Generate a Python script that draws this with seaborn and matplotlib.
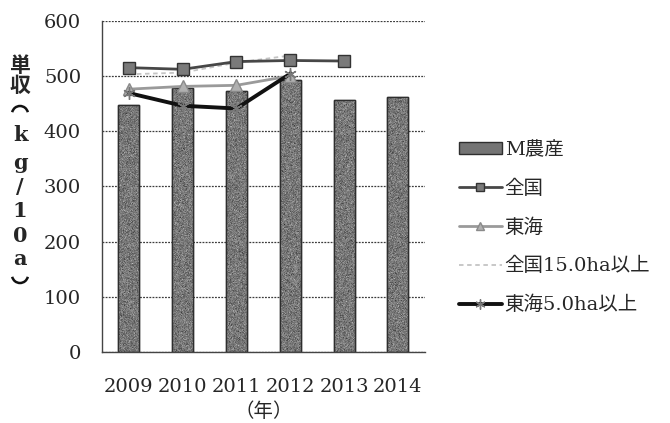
import numpy as np
import pandas as pd
import matplotlib
matplotlib.use("Agg")
import matplotlib.pyplot as plt
from matplotlib.patches import Arc
import seaborn as sns

# --- data -------------------------------------------------------------
years = ["2009", "2010", "2011", "2012", "2013", "2014"]
m_farm = [447, 479, 473, 493, 457, 461]                       # M農産
national = [515, 512, 526, 528, 527, np.nan]                  # 全国
tokai = [476, 481, 483, 500, np.nan, np.nan]                  # 東海
national_15ha = [503, 506, 524, 537, np.nan, np.nan]          # 全国15.0ha以上
tokai_5ha = [469, 446, 441, 504, np.nan, np.nan]              # 東海5.0ha以上

series_names = ["M農産", "全国", "東海", "全国15.0ha以上", "東海5.0ha以上"]
y_ticks = [0, 100, 200, 300, 400, 500, 600]
ylabel_chars = ["単", "収", "︵", "k", "g", "/", "1", "0", "a", "︶"]
xlabel_text = "（年）"

# --- style ------------------------------------------------------------
sns.set_theme(style="white")
FAM = ["DejaVu Serif", "Noto Sans CJK JP", "DejaVu Sans"]
plt.rcParams["font.family"] = FAM
FS = 14
W, H = 670, 423

fig = plt.figure(figsize=(W / 100, H / 100), dpi=100)
ax = fig.add_axes([0.152, 0.168, 0.482, 0.783])

df = pd.DataFrame({"year": years, "yield": m_farm})
sns.barplot(data=df, x="year", y="yield", ax=ax, color="#747474",
            saturation=1, width=0.39, edgecolor="#2e2e2e", linewidth=1.0,
            label=series_names[0], zorder=2)
if ax.get_legend() is not None:
    ax.get_legend().remove()

# fine grain inside the bars
rng = np.random.default_rng(7)
for bar in list(ax.patches):
    grain = np.clip(rng.normal(0.47, 0.07, size=(330, 22)), 0, 1)
    x0, y0 = bar.get_x(), bar.get_y()
    im = ax.imshow(grain, cmap="gray", vmin=0, vmax=1, aspect="auto",
                   extent=(x0, x0 + bar.get_width(), y0, y0 + bar.get_height()),
                   zorder=2.1, interpolation="nearest")
    im.set_clip_path(bar)
    edge = plt.Rectangle((x0, y0), bar.get_width(), bar.get_height(),
                         fill=False, ec="#2e2e2e", lw=1.0, zorder=2.2)
    ax.add_patch(edge)

pos = np.arange(len(years))
ax.plot(pos, national, color="#474747", lw=2.0, marker="s", ms=8,
        mfc="#7a7a7a", mec="#333333", mew=1.0, label=series_names[1], zorder=4)
ax.plot(pos, tokai, color="#9a9a9a", lw=2.0, marker="^", ms=8,
        mfc="#b0b0b0", mec="#8a8a8a", label=series_names[2], zorder=3)
ax.plot(pos, national_15ha, color="#c4c4c4", lw=1.3, ls=(0, (2.5, 2)),
        label=series_names[3], zorder=3)
ax.plot(pos, tokai_5ha, color="#111111", lw=2.8, marker=(6, 2, 0), ms=9,
        mec="#777777", mew=1.0, label=series_names[4], zorder=5)

# axes, grid and ticks
ax.set_xlim(-0.5, len(years) - 0.5)
ax.set_ylim(0, 600)
ax.set_yticks(y_ticks)
ax.yaxis.grid(True, color="#3c3c3c", lw=0.9, ls=(0, (1.5, 1)))
ax.xaxis.grid(False)
ax.set_axisbelow(True)
for s in ["top", "right"]:
    ax.spines[s].set_visible(False)
for s in ["left", "bottom"]:
    ax.spines[s].set_color("#444444")
    ax.spines[s].set_linewidth(1.0)

ax.tick_params(axis="y", which="major", direction="out", length=5,
               width=0.9, color="#444444", pad=10, labelsize=FS)
ax.tick_params(axis="x", which="major", length=0, pad=19, labelsize=FS)
ax.set_xticks(np.arange(-0.5, len(years)), minor=True)
ax.tick_params(axis="x", which="minor", direction="out", length=7,
               width=0.9, color="#444444")
ax.set_xlabel(xlabel_text, fontsize=FS, labelpad=4)
ax.set_ylabel("")

# vertical y-axis title, one glyph per row; the vertical-form brackets
# are drawn as half arcs so they keep their horizontal orientation
row_px = [65, 86, 110, 135, 163, 187, 211, 236, 259, 279]
cx = 20
for ch, py in zip(ylabel_chars, row_px):
    if ch == "︵":
        fig.add_artist(Arc((cx / W, 1 - (py + 4) / H), 16 / W, 16 / H,
                           theta1=20, theta2=160, lw=1.8, color="#111111",
                           transform=fig.transFigure))
    elif ch == "︶":
        fig.add_artist(Arc((cx / W, 1 - (py - 4) / H), 16 / W, 16 / H,
                           theta1=200, theta2=340, lw=1.8, color="#111111",
                           transform=fig.transFigure))
    else:
        fam = ["Noto Sans CJK JP"] if ch in "単収" else ["DejaVu Serif"]
        fig.text(cx / W, 1 - py / H, ch, ha="center", va="center",
                 fontsize=FS + 1, fontweight="bold", family=fam)

# legend
handles, labels = ax.get_legend_handles_labels()
order = [labels.index(n) for n in series_names]
fig.legend([handles[i] for i in order], [labels[i] for i in order],
           loc="center left", bbox_to_anchor=(459 / W, 1 - 227.5 / H),
           frameon=False, fontsize=FS, handlelength=2.2,
           handletextpad=0.15, labelspacing=1.05, borderpad=0,
           borderaxespad=0, handleheight=0.55, markerscale=0.8)

fig.savefig("out.png", dpi=100)
